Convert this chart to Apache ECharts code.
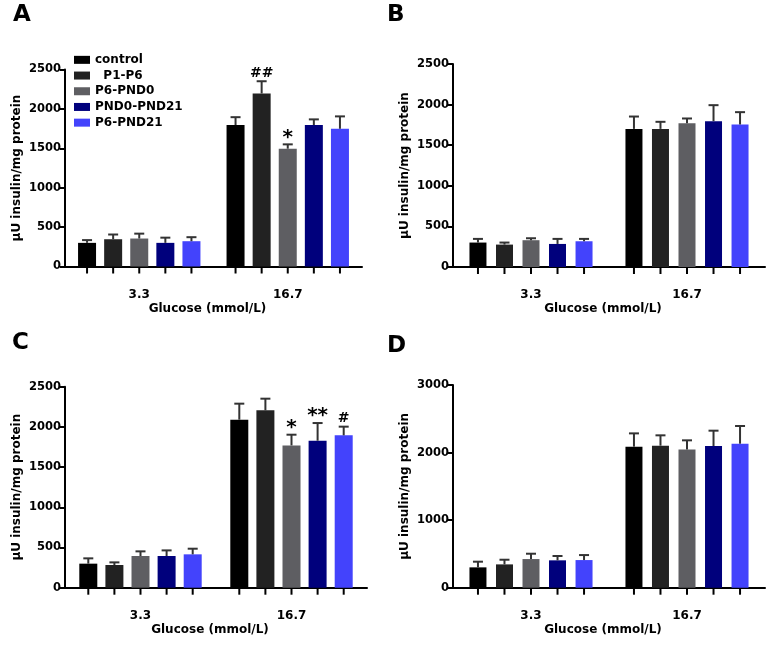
<!DOCTYPE html>
<html><head><meta charset="utf-8">
<script src="https://cdn.jsdelivr.net/npm/echarts@6/dist/echarts.min.js"></script>
<style>html,body{margin:0;padding:0;background:#fff}#c{width:769px;height:645px}</style>
</head><body><div id="c"></div>
<script>
// ---------- data ----------
const categories = ['3.3', '16.7'];
const seriesNames = ['control', 'P1-P6', 'P6-PND0', 'PND0-PND21', 'P6-PND21'];
const colors = ['#000000', '#222222', '#5e5e62', '#00007c', '#4343fc'];
const xAxisName = 'Glucose (mmol/L)';
const yAxisName = 'μU insulin/mg protein';
const panelLetters = ['A', 'B', 'C', 'D'];

// rows: series (control, P1-P6, P6-PND0, PND0-PND21, P6-PND21); columns: 3.3, 16.7
const meansA = [[300, 1795], [346, 2196], [355, 1495], [300, 1795], [321, 1748]];
const errsA  = [[35, 100],   [60, 155],   [62, 55],    [66, 72],    [51, 157]];
const marksA = [['', ''], ['', '##'], ['', '*'], ['', ''], ['', '']];

const meansB = [[301, 1701], [276, 1701], [330, 1771], [284, 1796], [317, 1755]];
const errsB  = [[45, 152],   [25, 87],    [24, 58],    [62, 197],   [29, 152]];
const marksB = [['', ''], ['', ''], ['', ''], ['', ''], ['', '']];

const meansC = [[299, 2090], [282, 2206], [394, 1770], [394, 1828], [415, 1895]];
const errsC  = [[66, 199],   [33, 145],   [58, 133],   [70, 220],   [70, 108]];
const marksC = [['', ''], ['', ''], ['', '*'], ['', '**'], ['', '#']];

const meansD = [[301, 2087], [345, 2102], [424, 2047], [405, 2097], [409, 2131]];
const errsD  = [[84, 197],   [69, 153],   [79, 134],   [64, 227],   [74, 262]];
const marksD = [['', ''], ['', ''], ['', ''], ['', ''], ['', '']];

const yMaxABC = 2500, yStepABC = 500;
const yMaxD = 3000, yStepD = 1000;

// ---------- layout / style ----------
const FONT = '"DejaVu Sans", sans-serif';
const panels = [
  {grid: {left: 65, top: 69.5, width: 297, height: 197}, means: meansA, errs: errsA, marks: marksA, max: yMaxABC, interval: yStepABC, barWidth: 18, gap: 0.45, lx: 13, ly: 4},
  {grid: {left: 453, top: 64, width: 312, height: 203}, means: meansB, errs: errsB, marks: marksB, max: yMaxABC, interval: yStepABC, barWidth: 17, gap: 0.56, lx: 387, ly: 4},
  {grid: {left: 65, top: 386.7, width: 302, height: 201}, means: meansC, errs: errsC, marks: marksC, max: yMaxABC, interval: yStepABC, barWidth: 18, gap: 0.45, lx: 12, ly: 332},
  {grid: {left: 453, top: 385, width: 312, height: 202.7}, means: meansD, errs: errsD, marks: marksD, max: yMaxD, interval: yStepD, barWidth: 17, gap: 0.56, lx: 387, ly: 335}
];

const grids = [], xAxes = [], yAxes = [], series = [], titles = [];
panels.forEach((p, pi) => {
  grids.push(Object.assign({containLabel: false}, p.grid));
  titles.push({text: panelLetters[pi], left: p.lx, top: p.ly, padding: 0,
    textStyle: {fontFamily: FONT, fontWeight: 'bold', fontSize: 23, color: '#000'}});
  xAxes.push({
    type: 'category', gridIndex: pi, data: categories,
    axisLine: {lineStyle: {color: '#000', width: 2}},
    axisTick: {show: false},
    axisLabel: {color: '#000', fontFamily: FONT, fontWeight: 'bold', fontSize: 12, margin: 22},
    name: xAxisName, nameLocation: 'middle', nameGap: 36,
    nameTextStyle: {color: '#000', fontFamily: FONT, fontWeight: 'bold', fontSize: 12, padding: [0, 12, 0, 0]}
  });
  yAxes.push({
    type: 'value', gridIndex: pi, min: 0, max: p.max, interval: p.interval,
    splitLine: {show: false},
    axisLine: {show: true, lineStyle: {color: '#000', width: 2}},
    axisTick: {show: true, length: 5, lineStyle: {color: '#000', width: 2}},
    axisLabel: {color: '#000', fontFamily: FONT, fontWeight: 'bold', fontSize: 11.5, margin: 4,
      formatter: v => String(v)},
    name: yAxisName, nameLocation: 'middle', nameGap: 42, nameRotate: 90,
    nameTextStyle: {color: '#000', fontFamily: FONT, fontWeight: 'bold', fontSize: 12}
  });
  seriesNames.forEach((name, si) => {
    series.push({
      type: 'bar', name: name, xAxisIndex: pi, yAxisIndex: pi,
      data: p.means[si], barWidth: p.barWidth, barGap: (p.gap * 100) + '%',
      itemStyle: {color: colors[si]}, silent: true
    });
  });
  seriesNames.forEach((name, si) => {
    const step = p.barWidth * (1 + p.gap);
    const off = (si - (seriesNames.length - 1) / 2) * step;
    series.push({
      type: 'custom', xAxisIndex: pi, yAxisIndex: pi, silent: true, clip: false, z: 3,
      data: categories.map((c, ci) => [ci, p.means[si][ci], p.errs[si][ci]]),
      renderItem: function (params, api) {
        const ci = api.value(0), mean = api.value(1), err = api.value(2);
        const b = api.coord([ci, 0]), m = api.coord([ci, mean]), t = api.coord([ci, mean + err]);
        const x = b[0] + off;
        const ch = [
          {type: 'line', shape: {x1: x, y1: m[1], x2: x, y2: t[1]}, style: {stroke: '#333', lineWidth: 2}},
          {type: 'line', shape: {x1: x - 5, y1: t[1], x2: x + 5, y2: t[1]}, style: {stroke: '#333', lineWidth: 2}},
          {type: 'line', shape: {x1: x, y1: b[1] + 1, x2: x, y2: b[1] + 7}, style: {stroke: '#000', lineWidth: 2}}
        ];
        const mk = p.marks[si][params.dataIndex];
        if (mk) {
          const isStar = mk.indexOf('*') >= 0;
          ch.push({type: 'text', x: x, y: isStar ? t[1] + 3 : t[1] - 1,
            style: {text: mk, align: 'center', verticalAlign: 'bottom', fill: '#000',
              font: 'bold ' + (isStar ? 20 : 14) + 'px ' + FONT}});
        }
        return {type: 'group', children: ch};
      }
    });
  });
});

const chart = echarts.init(document.getElementById('c'), null, {renderer: 'canvas'});
chart.setOption({
  animation: false,
  backgroundColor: '#fff',
  title: titles,
  legend: {
    data: seriesNames, orient: 'vertical', left: 74, top: 53, padding: 0,
    icon: 'rect', itemWidth: 16, itemHeight: 8, itemGap: 2,
    selectedMode: false,
    formatter: n => n === 'P1-P6' ? '  P1-P6' : n,
    textStyle: {color: '#000', fontFamily: FONT, fontWeight: 'bold', fontSize: 12, lineHeight: 13.7}
  },
  grid: grids, xAxis: xAxes, yAxis: yAxes, series: series
});
</script></body></html>
